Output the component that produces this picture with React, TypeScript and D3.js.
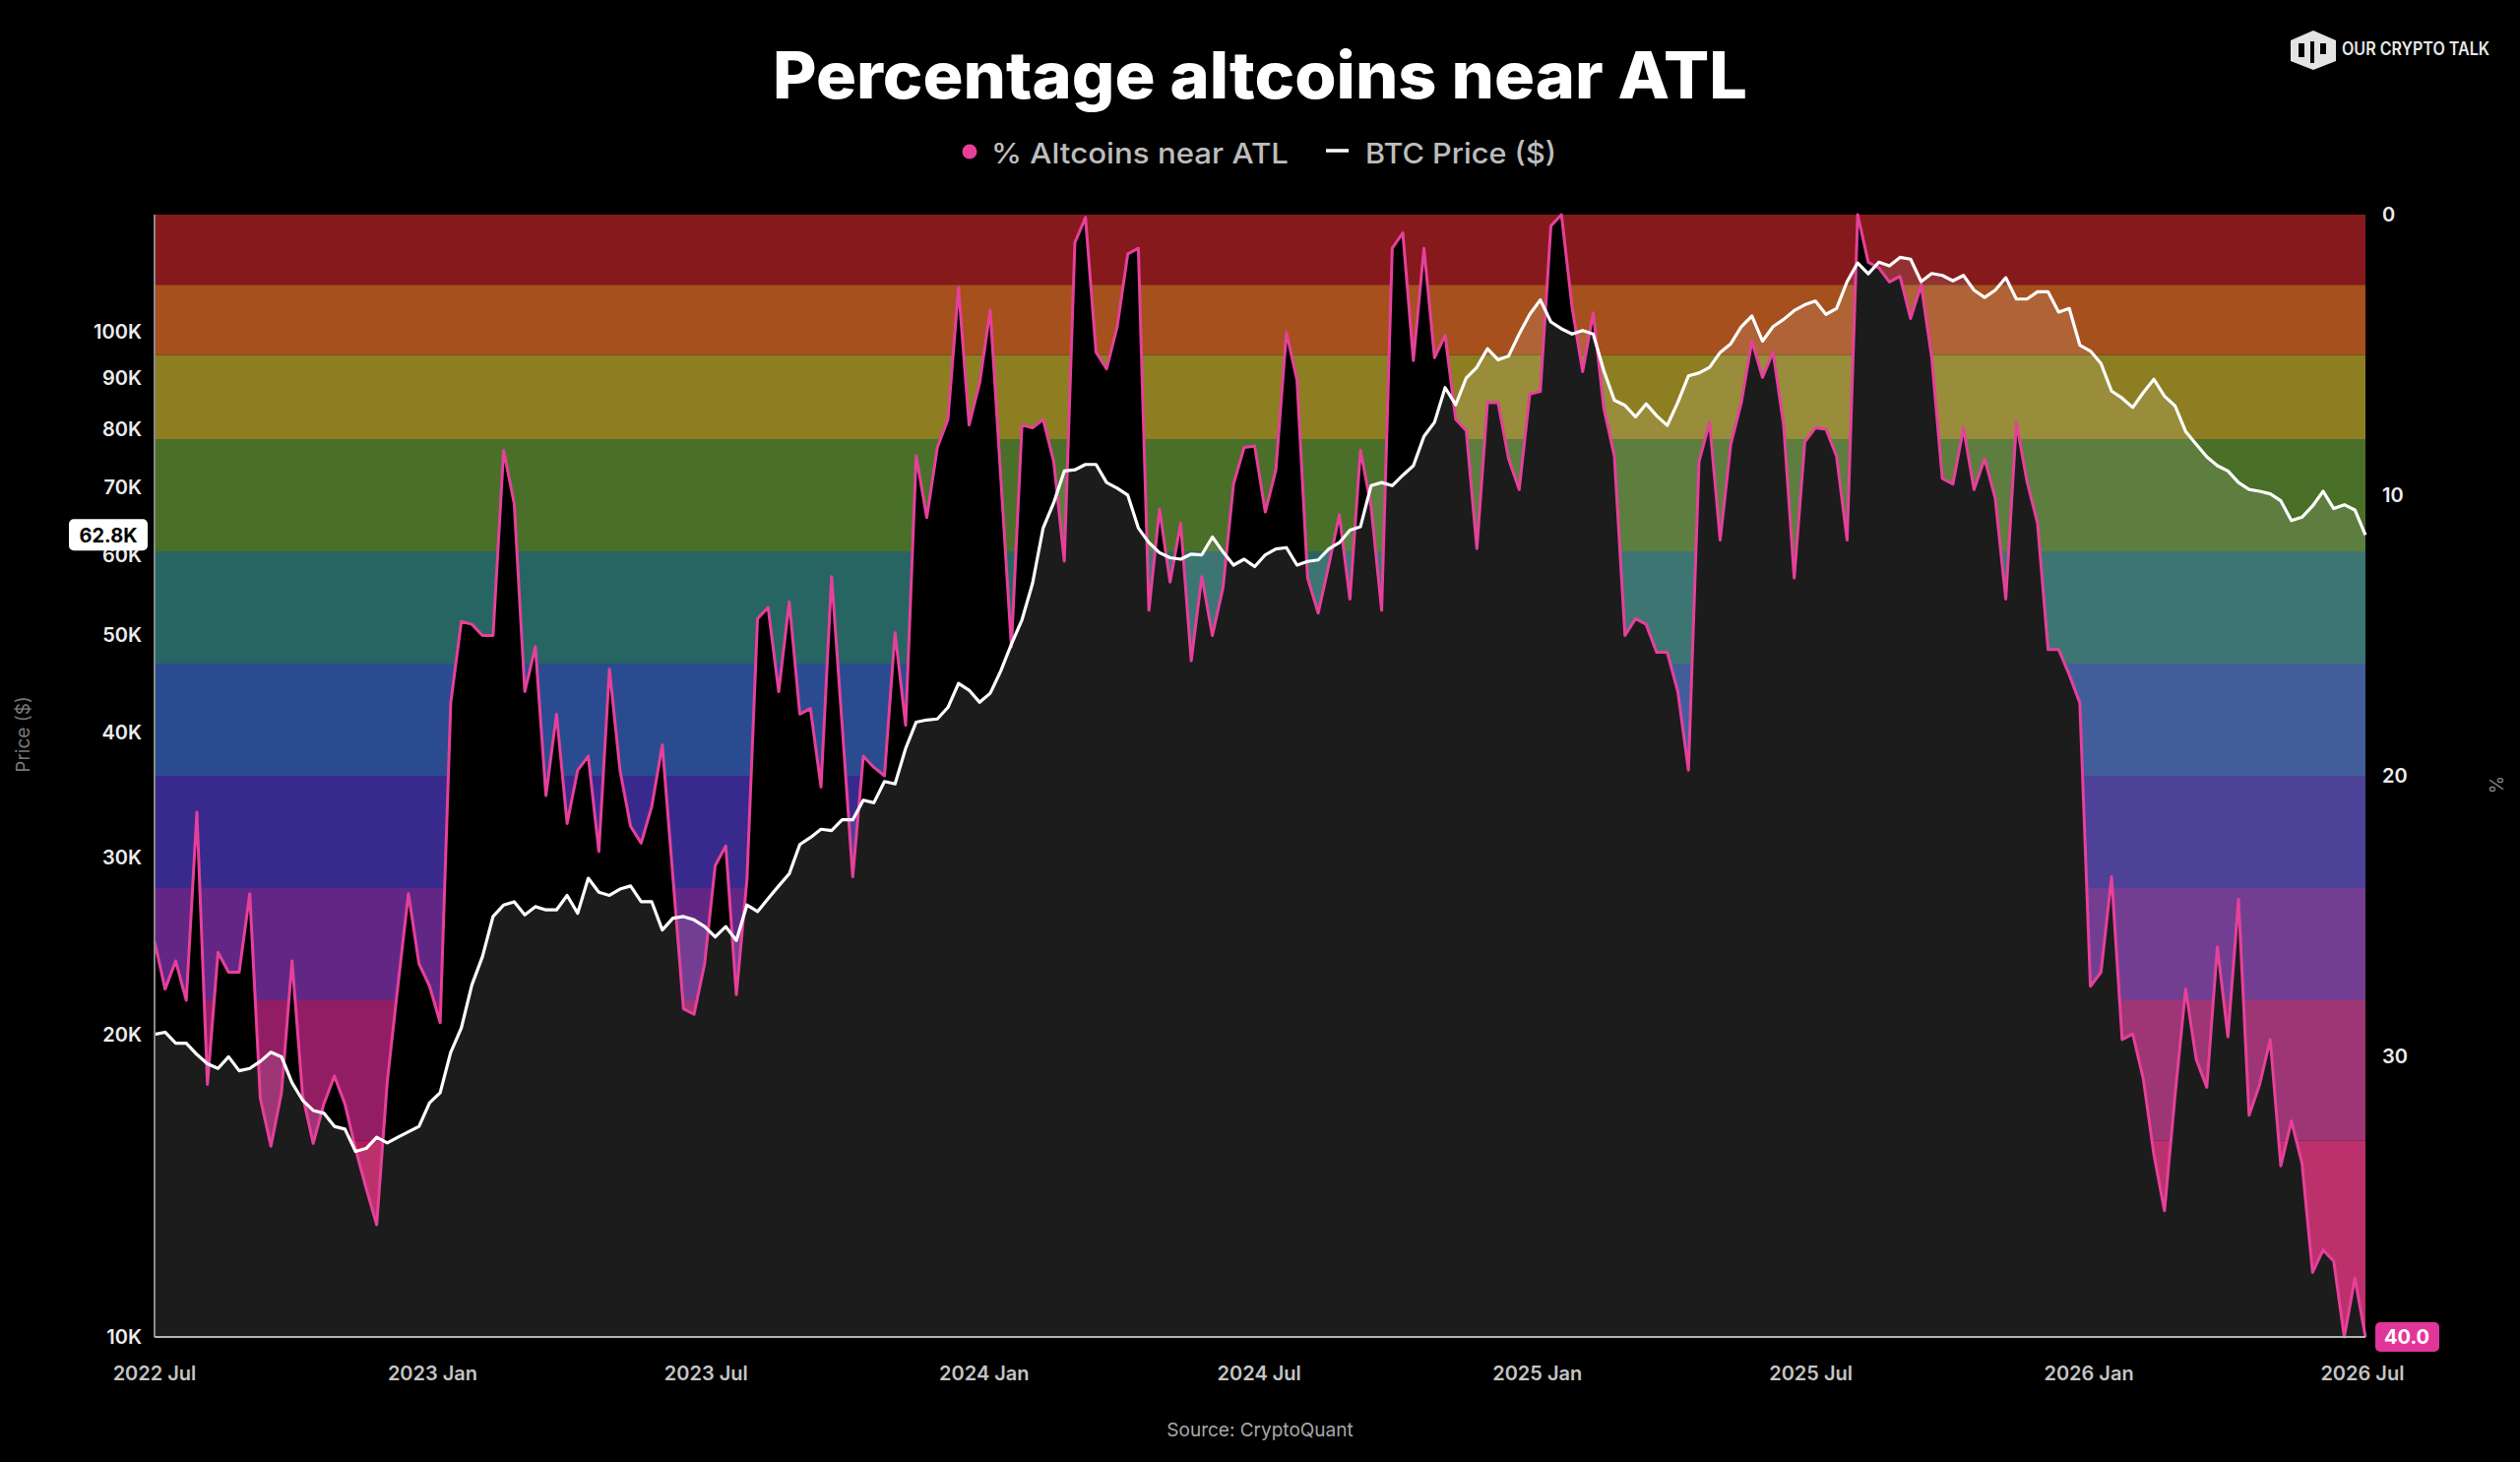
import React, { useEffect } from 'react';
import * as d3 from 'd3';

// weekly readings, first week of 2022 Jul onwards
const pctAltcoins = [
  25.9, 27.6, 26.6, 28.0, 21.3, 31.0, 26.3, 27.0, 27.0, 24.2,
  31.5, 33.2, 31.3, 26.6, 31.4, 33.1, 31.7, 30.7, 31.7, 33.3,
  34.7, 36.0, 30.9, 27.5, 24.2, 26.7, 27.5, 28.8, 17.4, 14.5,
  14.6, 15.0, 15.0, 8.4, 10.3, 17.0, 15.4, 20.7, 17.8, 21.7,
  19.8, 19.3, 22.7, 16.2, 19.8, 21.8, 22.4, 21.1, 18.9, 23.6,
  28.3, 28.5, 26.7, 23.2, 22.5, 27.8, 23.7, 14.4, 14.0, 17.0,
  13.8, 17.8, 17.6, 20.4, 12.9, 18.2, 23.6, 19.3, 19.7, 20.0,
  14.9, 18.2, 8.6, 10.8, 8.3, 7.3, 2.6, 7.5, 6.0, 3.4,
  9.4, 15.4, 7.5, 7.6, 7.3, 8.8, 12.35, 1.0, 0.1, 4.9,
  5.5, 4.0, 1.4, 1.2, 14.1, 10.5, 13.1, 11.0, 15.9, 12.9,
  15.0, 13.3, 9.6, 8.3, 8.25, 10.6, 9.1, 4.2, 5.9, 12.95,
  14.2, 12.5, 10.7, 13.7, 8.4, 10.4, 14.1, 1.2, 0.65, 5.2,
  1.2, 5.1, 4.3, 7.3, 7.7, 11.9, 6.7, 6.7, 8.7, 9.8,
  6.4, 6.3, 0.4, 0.0, 3.3, 5.6, 3.5, 6.9, 8.6, 15.0,
  14.4, 14.6, 15.6, 15.6, 17.0, 19.8, 8.8, 7.4, 11.6, 8.2,
  6.7, 4.5, 5.8, 4.9, 7.5, 12.95, 8.1, 7.6, 7.65, 8.6,
  11.6, 0.0, 1.7, 1.9, 2.4, 2.2, 3.7, 2.5, 5.1, 9.4,
  9.6, 7.6, 9.8, 8.7, 10.1, 13.7, 7.4, 9.5, 11.0, 15.5,
  15.5, 16.4, 17.4, 27.5, 27.0, 23.6, 29.4, 29.2, 30.8, 33.5,
  35.5, 31.4, 27.6, 30.1, 31.1, 26.1, 29.3, 24.4, 32.1, 31.0,
  29.4, 33.9, 32.3, 33.8, 37.7, 36.9, 37.3, 40.0, 37.9, 40.0,
];

// BTC price, thousands of USD
const btcPrice = [
  20.0, 20.1, 19.6, 19.6, 19.1, 18.7, 18.5, 19.0, 18.4, 18.5,
  18.8, 19.2, 19.0, 17.9, 17.2, 16.8, 16.7, 16.2, 16.1, 15.3,
  15.4, 15.8, 15.6, 15.8, 16.0, 16.2, 17.1, 17.5, 19.2, 20.3,
  22.4, 23.9, 26.2, 26.9, 27.1, 26.3, 26.8, 26.6, 26.6, 27.5,
  26.4, 28.6, 27.7, 27.5, 27.9, 28.1, 27.1, 27.1, 25.4, 26.1,
  26.2, 26.0, 25.6, 25.0, 25.6, 24.8, 26.9, 26.5, 27.3, 28.1,
  28.9, 30.9, 31.4, 32.0, 31.9, 32.7, 32.7, 34.2, 34.0, 35.7,
  35.5, 38.5, 40.9, 41.1, 41.2, 42.3, 44.7, 44.0, 42.8, 43.7,
  46.0, 48.9, 51.7, 56.2, 63.8, 67.6, 72.7, 72.9, 73.8, 73.8,
  70.8, 69.9, 68.8, 63.8, 61.7, 60.3, 59.6, 59.4, 60.1, 60.0,
  62.5, 60.4, 58.6, 59.4, 58.4, 60.0, 60.8, 61.0, 58.6, 59.1,
  59.3, 60.8, 61.7, 63.5, 64.0, 70.3, 70.8, 70.3, 72.0, 73.6,
  78.7, 81.3, 88.0, 84.6, 90.0, 92.2, 96.2, 93.8, 94.6, 99.5,
  104.1, 107.6, 102.3, 100.7, 99.5, 100.3, 99.5, 91.5, 85.5, 84.5,
  82.3, 84.8, 82.5, 80.7, 85.1, 90.4, 91.0, 92.2, 95.4, 97.3,
  101.2, 103.7, 97.9, 101.2, 102.9, 105.0, 106.4, 107.3, 104.1, 105.5,
  112.2, 117.1, 114.2, 117.3, 116.3, 118.6, 118.1, 112.2, 114.3, 113.8,
  112.4, 113.8, 110.0, 108.2, 110.0, 113.2, 107.8, 107.8, 109.6, 109.6,
  104.6, 105.5, 97.0, 95.7, 93.0, 87.3, 85.9, 84.1, 87.0, 89.7,
  86.3, 84.4, 79.6, 77.3, 75.1, 73.6, 72.7, 70.8, 69.7, 69.4,
  69.0, 67.9, 64.9, 65.4, 67.1, 69.4, 66.7, 67.3, 66.5, 62.8,
];

// background zones on the % axis
const zoneEdges = [0, 2.5, 5, 8, 12, 16, 20, 24, 28, 33, 40];
const zoneColors = [
  '#86191c', '#a6501e', '#8d7e22', '#4a6f28', '#266562',
  '#2a4b8f', '#382a8c', '#622785', '#931d63', '#b4185a',
];

const priceTicks = [10, 20, 30, 40, 50, 60, 70, 80, 90, 100];
const pctTicks = [0, 10, 20, 30];
const xTickDates = ['2022-07-01', '2023-01-01', '2023-07-01', '2024-01-01', '2024-07-01', '2025-01-01', '2025-07-01', '2026-01-01', '2026-07-01'];
const xTickLabels = ['2022 Jul', '2023 Jan', '2023 Jul', '2024 Jan', '2024 Jul', '2025 Jan', '2025 Jul', '2026 Jan', '2026 Jul'];

const W = 2560;
const H = 1485;
const plot = { left: 157, right: 2403, top: 218, bottom: 1358 };
const PINK = '#e6409b';
const FONT = 'Inter, "DejaVu Sans", sans-serif';

const start = new Date(Date.UTC(2022, 6, 1));
const dates = pctAltcoins.map((_, i) => d3.utcDay.offset(start, i * 7));

const App: React.FC = () => {
  useEffect(() => {
    document.body.style.margin = '0';
    document.body.style.background = '#000';
  }, []);

  const x = d3.scaleUtc()
    .domain([dates[0], dates[dates.length - 1]])
    .range([plot.left, plot.right]);
  const yPct = d3.scaleLinear().domain([0, 40]).range([plot.top, plot.bottom]);
  const yPrice = d3.scaleLog().domain([10, 130.8]).range([plot.bottom, plot.top]);

  const pctArea = d3.area<number>()
    .x((_, i) => x(dates[i]))
    .y0(plot.bottom)
    .y1(d => yPct(d));
  const pctLine = d3.line<number>()
    .x((_, i) => x(dates[i]))
    .y(d => yPct(d));
  const btcArea = d3.area<number>()
    .x((_, i) => x(dates[i]))
    .y0(plot.bottom)
    .y1(d => yPrice(d));
  const btcLine = d3.line<number>()
    .x((_, i) => x(dates[i]))
    .y(d => yPrice(d));

  const lastPrice = btcPrice[btcPrice.length - 1];
  const lastPct = pctAltcoins[pctAltcoins.length - 1];

  return (
    <svg width={W} height={H} style={{ display: 'block', background: '#000' }} fontFamily={FONT}>
      <rect width={W} height={H} fill="#000" />

      {/* title + legend */}
      <text x={1280} y={100} fill="#fff" fontSize={66} fontWeight={800} textAnchor="middle"
        textLength={990} lengthAdjust="spacingAndGlyphs">Percentage altcoins near ATL</text>
      <circle cx={985} cy={154} r={7.5} fill={PINK} />
      <text x={1007} y={166} fill="#bdbdbd" fontSize={29} fontWeight={500}
        textLength={302} lengthAdjust="spacingAndGlyphs">% Altcoins near ATL</text>
      <line x1={1347} x2={1370} y1={153} y2={153} stroke="#fff" strokeWidth={3.5} />
      <text x={1387} y={166} fill="#bdbdbd" fontSize={29} fontWeight={500}
        textLength={194} lengthAdjust="spacingAndGlyphs">BTC Price ($)</text>

      {/* logo */}
      <g>
        <polygon points="2350,31 2373,41 2373,62 2350,71 2327,62 2327,41" fill="#e3e3e3" />
        <rect x={2335} y={44} width={6} height={14} fill="#000" />
        <rect x={2347} y={42} width={4} height={22} fill="#000" />
        <rect x={2357} y={44} width={6} height={11} fill="#000" />
        <text x={2379} y={56} fill="#e8e8e8" fontSize={18} fontWeight={600}
          textLength={150} lengthAdjust="spacingAndGlyphs">OUR CRYPTO TALK</text>
      </g>

      {/* zones */}
      {zoneColors.map((c, i) => (
        <rect key={i} x={plot.left} width={plot.right - plot.left}
          y={yPct(zoneEdges[i])} height={yPct(zoneEdges[i + 1]) - yPct(zoneEdges[i])} fill={c} />
      ))}

      <path d={pctArea(pctAltcoins) ?? ''} fill="#000" />
      <path d={btcArea(btcPrice) ?? ''} fill="#fff" fillOpacity={0.11} />
      <path d={pctLine(pctAltcoins) ?? ''} fill="none" stroke={PINK} strokeWidth={3} strokeLinejoin="round" />
      <path d={btcLine(btcPrice) ?? ''} fill="none" stroke="#fff" strokeWidth={3.2} strokeLinejoin="round" />

      {/* axes */}
      <line x1={plot.left} x2={plot.left} y1={plot.top} y2={plot.bottom} stroke="#8a8a8a" strokeWidth={2} />
      <line x1={plot.left} x2={plot.right} y1={plot.bottom} y2={plot.bottom} stroke="#b4b4b4" strokeWidth={2} />

      {priceTicks.map(t => (
        <text key={t} x={144} y={yPrice(t)} dy="0.36em" fill="#ececec" fontSize={20} fontWeight={600}
          textAnchor="end">{`${t}K`}</text>
      ))}
      {pctTicks.map(t => (
        <text key={t} x={2420} y={yPct(t)} dy="0.36em" fill="#ececec" fontSize={20} fontWeight={600}>{t}</text>
      ))}
      {xTickDates.map((d, i) => (
        <text key={d} x={x(new Date(d + 'T00:00:00Z'))} y={1402} fill="#c4c4c4" fontSize={20} fontWeight={600}
          textAnchor="middle">{xTickLabels[i]}</text>
      ))}

      <text transform="translate(30,746) rotate(-90)" fill="#7a7a7a" fontSize={19} textAnchor="middle">Price ($)</text>
      <text transform="translate(2529,797) rotate(90)" fill="#8a8a8a" fontSize={19} textAnchor="middle">%</text>
      <text x={1280} y={1459} fill="#a8a8a8" fontSize={19} textAnchor="middle">Source: CryptoQuant</text>

      {/* last value tags */}
      <rect x={70} y={yPrice(lastPrice) - 16} width={80} height={32} rx={5} fill="#fff" />
      <text x={110} y={yPrice(lastPrice)} dy="0.36em" fill="#000" fontSize={20} fontWeight={700}
        textAnchor="middle">{`${lastPrice.toFixed(1)}K`}</text>
      <rect x={2413} y={yPct(lastPct) - 15} width={65} height={30} rx={5} fill="#e2359a" />
      <text x={2445} y={yPct(lastPct)} dy="0.36em" fill="#fff" fontSize={20} fontWeight={700}
        textAnchor="middle">{lastPct.toFixed(1)}</text>
    </svg>
  );
};

export default App;
